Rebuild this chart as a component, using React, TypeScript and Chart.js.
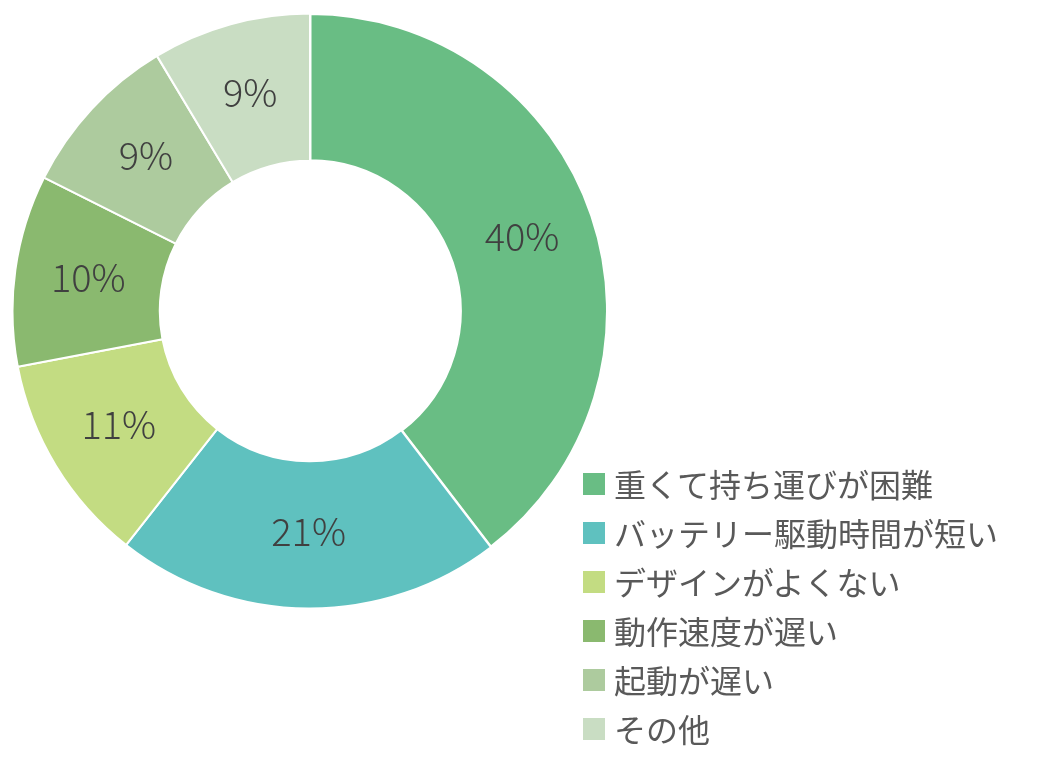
import React, { useEffect, useRef } from 'react';
import { Chart, ChartConfiguration, Plugin } from 'chart.js/auto';

const labels = ['重くて持ち運びが困難', 'バッテリー駆動時間が短い', 'デザインがよくない', '動作速度が遅い', '起動が遅い', 'その他'];
const values = [39.6, 21.0, 11.4, 10.4, 9.0, 8.6];
const colors = ['#69BD84', '#5FC1BF', '#C3DC82', '#8AB96F', '#ADCB9E', '#C9DDC3'];
const borderWidths = [3, 2, 2, 2, 2, 2];

const FONT = '"Noto Sans CJK JP", "Noto Sans", sans-serif';

// draws the percentage in the middle of each slice
const sliceLabels: Plugin<'doughnut'> = {
  id: 'sliceLabels',
  afterDatasetsDraw(chart) {
    const { ctx } = chart;
    const meta = chart.getDatasetMeta(0);
    const total = values.reduce((a, b) => a + b, 0);
    ctx.save();
    ctx.font = `300 38px ${FONT}`;
    ctx.fillStyle = '#404040';
    ctx.textAlign = 'center';
    ctx.textBaseline = 'middle';
    meta.data.forEach((arc, i) => {
      const p = arc.tooltipPosition(false);
      ctx.fillText(Math.round((values[i] / total) * 100) + '%', p.x, p.y - 3);
    });
    ctx.restore();
  }
};

function Donut() {
  const canvasRef = useRef<HTMLCanvasElement | null>(null);
  useEffect(() => {
    if (!canvasRef.current) return;
    const config: ChartConfiguration<'doughnut'> = {
      type: 'doughnut',
      data: {
        labels,
        datasets: [{ data: values, backgroundColor: colors, borderColor: '#ffffff', borderWidth: borderWidths }]
      },
      options: {
        responsive: false,
        animation: false,
        cutout: '50.5%',
        layout: { padding: 0 },
        plugins: { legend: { display: false }, tooltip: { enabled: false } }
      },
      plugins: [sliceLabels]
    };
    const c = new Chart(canvasRef.current, config);
    return () => { c.destroy(); };
  }, []);
  return <canvas ref={canvasRef} width={598} height={598} style={{ position: 'absolute', left: 11, top: 12, width: 598, height: 598 }} />;
}

export default function App() {
  return (
    <div style={{ position: 'fixed', left: 0, top: 0, width: 1041, height: 767, background: '#fff', fontFamily: FONT }}>
      <Donut />
      <div style={{ position: 'absolute', left: 583, top: 459 }}>
        {labels.map((l, i) => (
          <div key={l} style={{ display: 'flex', alignItems: 'center', height: 49 }}>
            <span style={{ width: 22, height: 22, background: colors[i], display: 'inline-block', marginRight: 9 }} />
            <span style={{ fontSize: 32, color: '#595959', whiteSpace: 'nowrap', lineHeight: '49px' }}>{l}</span>
          </div>
        ))}
      </div>
    </div>
  );
}
